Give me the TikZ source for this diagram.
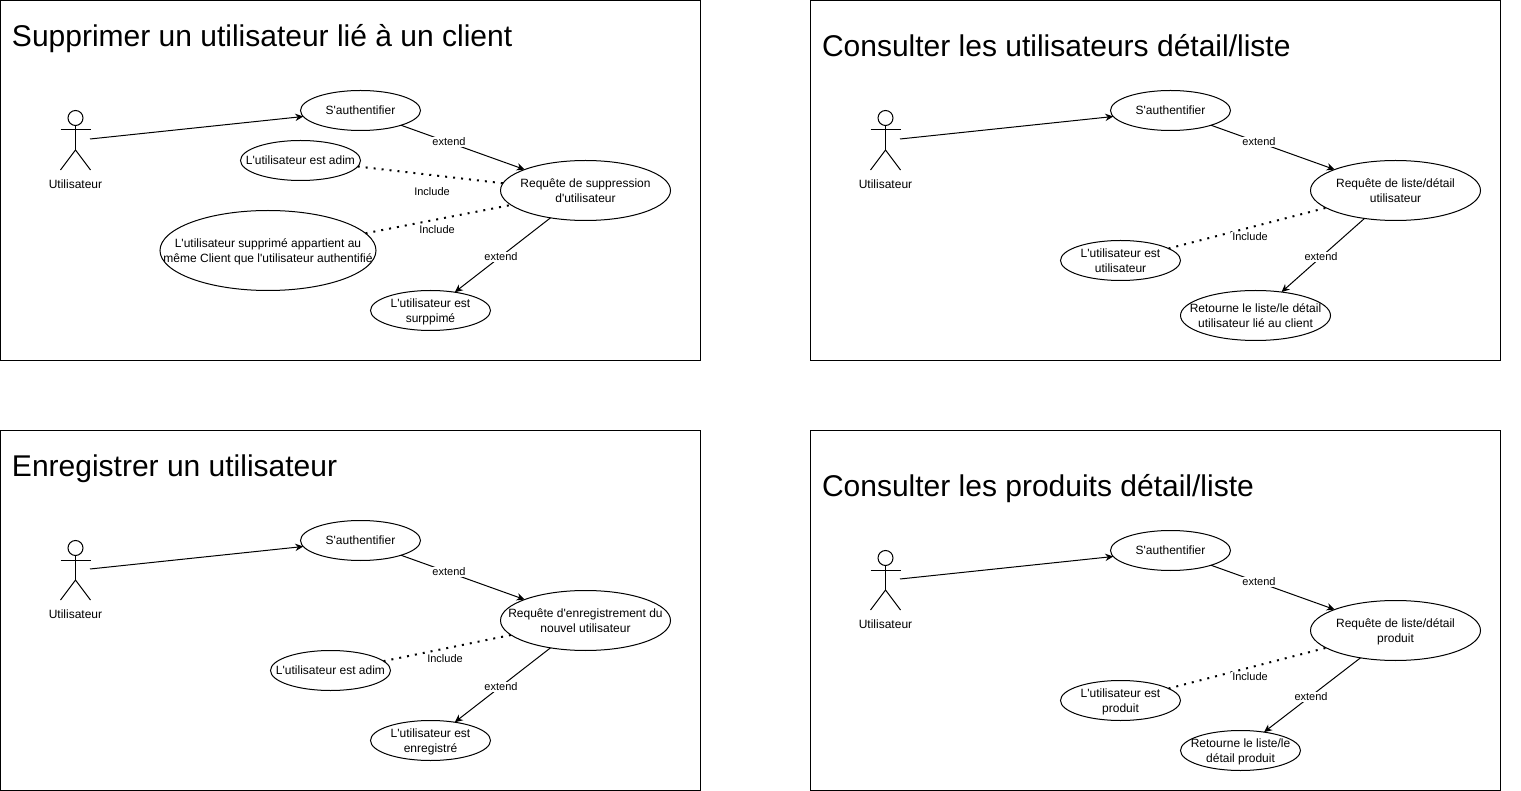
\documentclass[tikz,border=0pt]{standalone}
\usepackage{fontspec}
\setmainfont[Ligatures=TeXOff]{Liberation Sans}
\usetikzlibrary{shapes.geometric,arrows.meta}
\tikzset{
  usecase/.style={draw, ellipse, inner sep=-90pt, outer sep=0pt, align=center, fill=white,
    font=\fontsize{9}{11.25}\selectfont, text depth=0pt},
  panel/.style={draw, rectangle, outer sep=0pt, inner sep=0pt},
  paneltitle/.style={anchor=base west, inner sep=0pt, font=\fontsize{22.5}{27}\selectfont},
  edgelabel/.style={fill=white, inner sep=0.6pt, font=\fontsize{8.25}{10}\selectfont},
  assoc/.style={-{Stealth[length=6pt,width=5.5pt]}},
  incl/.style={line width=1.5pt, dash pattern=on 1.5pt off 4.5pt},
  actorfig/.pic={
    \node[draw, circle, minimum size=15*0.75pt, inner sep=0pt, outer sep=0pt] (-head) at (0,0) {};
    \coordinate (-hip) at (0,32);
    \coordinate (-start) at (14.5,21);
    \draw (-head.south) -- (-hip);
    \draw (-15,12) -- (15,12);
    \draw (-15,52) -- (-hip) -- (15,52);
    \node[inner sep=0pt, font=\fontsize{9}{11.25}\selectfont] (-name) at (0,66) {Utilisateur};
  }
}

\begin{document}
\begin{tikzpicture}[x=0.75pt, y=-0.75pt, line width=0.75pt]
  \useasboundingbox (0,0) rectangle (1521,791);

  % top left
  \node[panel, minimum width=700*0.75pt, minimum height=360*0.75pt] (frameA) at (350.5,180.5) {};
  \node[paneltitle] (titleA) at (11.5,47) {Supprimer un utilisateur lié à un client};
  \pic (actorA) at (75.5,118) {actorfig};
  \node[usecase, minimum width=120*0.75pt, minimum height=40*0.75pt] (authA) at (360.5,110.5) {S'authentifier};
  \node[usecase, minimum width=120*0.75pt, minimum height=40*0.75pt] (adminA) at (300.5,160.5) {L'utilisateur est adim};
  \node[usecase, minimum width=170*0.75pt, minimum height=60*0.75pt] (reqA) at (585.5,190.5) {Requête de suppression\\d'utilisateur};
  \node[usecase, minimum width=216*0.75pt, minimum height=80*0.75pt] (ownerA) at (268,250.5) {L'utilisateur supprimé appartient au\\même Client que l'utilisateur authentifié};
  \node[usecase, minimum width=120*0.75pt, minimum height=40*0.75pt] (doneA) at (430.5,310.5) {L'utilisateur est\\surppimé};
  \draw[assoc] (actorA-start) -- (authA.186);
  \draw[assoc] (authA.340) -- (reqA.161);
  \draw[incl] (adminA.354) -- (reqA.175);
  \draw[incl] (ownerA.10) -- (reqA.191);
  \draw[assoc] (reqA.218) -- (doneA.37);
  \node[edgelabel] (extA) at (449,142) {extend};
  \node[edgelabel] (incA) at (432,192) {Include};
  \node[edgelabel] (incB) at (437,230) {Include};
  \node[edgelabel] (extB) at (501,257) {extend};

  % top right
  \node[panel, minimum width=690*0.75pt, minimum height=360*0.75pt] (frameB) at (1155.5,180.5) {};
  \node[paneltitle] (titleB) at (821.5,57) {Consulter les utilisateurs détail/liste};
  \pic (actorB) at (885.5,118) {actorfig};
  \node[usecase, minimum width=120*0.75pt, minimum height=40*0.75pt] (authB) at (1170.5,110.5) {S'authentifier};
  \node[usecase, minimum width=170*0.75pt, minimum height=60*0.75pt] (reqB) at (1395.5,190.5) {Requête de liste/détail\\utilisateur};
  \node[usecase, minimum width=120*0.75pt, minimum height=40*0.75pt] (userB) at (1120.5,260.5) {L'utilisateur est\\utilisateur};
  \node[usecase, minimum width=150*0.75pt, minimum height=50*0.75pt] (doneB) at (1255.5,315.5) {Retourne le liste/le détail\\utilisateur lié au client};
  \draw[assoc] (actorB-start) -- (authB.186);
  \draw[assoc] (authB.340) -- (reqB.161);
  \draw[incl] (userB.14) -- (reqB.194);
  \draw[assoc] (reqB.222) -- (doneB.42);
  \node[edgelabel] (extC) at (1259,142) {extend};
  \node[edgelabel] (incC) at (1250,237) {Include};
  \node[edgelabel] (extD) at (1321,257) {extend};

  % bottom left
  \node[panel, minimum width=700*0.75pt, minimum height=360*0.75pt] (frameC) at (350.5,610.5) {};
  \node[paneltitle] (titleC) at (11.5,477) {Enregistrer un utilisateur};
  \pic (actorC) at (75.5,548) {actorfig};
  \node[usecase, minimum width=120*0.75pt, minimum height=40*0.75pt] (authC) at (360.5,540.5) {S'authentifier};
  \node[usecase, minimum width=170*0.75pt, minimum height=60*0.75pt] (reqC) at (585.5,620.5) {Requête d'enregistrement du\\nouvel utilisateur};
  \node[usecase, minimum width=120*0.75pt, minimum height=40*0.75pt] (adminC) at (330.5,670.5) {L'utilisateur est adim};
  \node[usecase, minimum width=120*0.75pt, minimum height=40*0.75pt] (doneC) at (430.5,740.5) {L'utilisateur est\\enregistré};
  \draw[assoc] (actorC-start) -- (authC.186);
  \draw[assoc] (authC.340) -- (reqC.161);
  \draw[incl] (adminC.10) -- (reqC.191);
  \draw[assoc] (reqC.218) -- (doneC.37);
  \node[edgelabel] (extE) at (449,572) {extend};
  \node[edgelabel] (incE) at (445,659) {Include};
  \node[edgelabel] (extF) at (501,687) {extend};

  % bottom right
  \node[panel, minimum width=690*0.75pt, minimum height=360*0.75pt] (frameD) at (1155.5,610.5) {};
  \node[paneltitle] (titleD) at (821.5,497) {Consulter les produits détail/liste};
  \pic (actorD) at (885.5,558) {actorfig};
  \node[usecase, minimum width=120*0.75pt, minimum height=40*0.75pt] (authD) at (1170.5,550.5) {S'authentifier};
  \node[usecase, minimum width=170*0.75pt, minimum height=60*0.75pt] (reqD) at (1395.5,630.5) {Requête de liste/détail\\produit};
  \node[usecase, minimum width=120*0.75pt, minimum height=40*0.75pt] (userD) at (1120.5,700.5) {L'utilisateur est\\produit};
  \node[usecase, minimum width=120*0.75pt, minimum height=40*0.75pt] (doneD) at (1240.5,750.5) {Retourne le liste/le\\détail produit};
  \draw[assoc] (actorD-start) -- (authD.186);
  \draw[assoc] (authD.340) -- (reqD.161);
  \draw[incl] (userD.14) -- (reqD.194);
  \draw[assoc] (reqD.218) -- (doneD.38);
  \node[edgelabel] (extG) at (1259,582) {extend};
  \node[edgelabel] (incG) at (1250,677) {Include};
  \node[edgelabel] (extH) at (1311,697) {extend};
\end{tikzpicture}
\end{document}
